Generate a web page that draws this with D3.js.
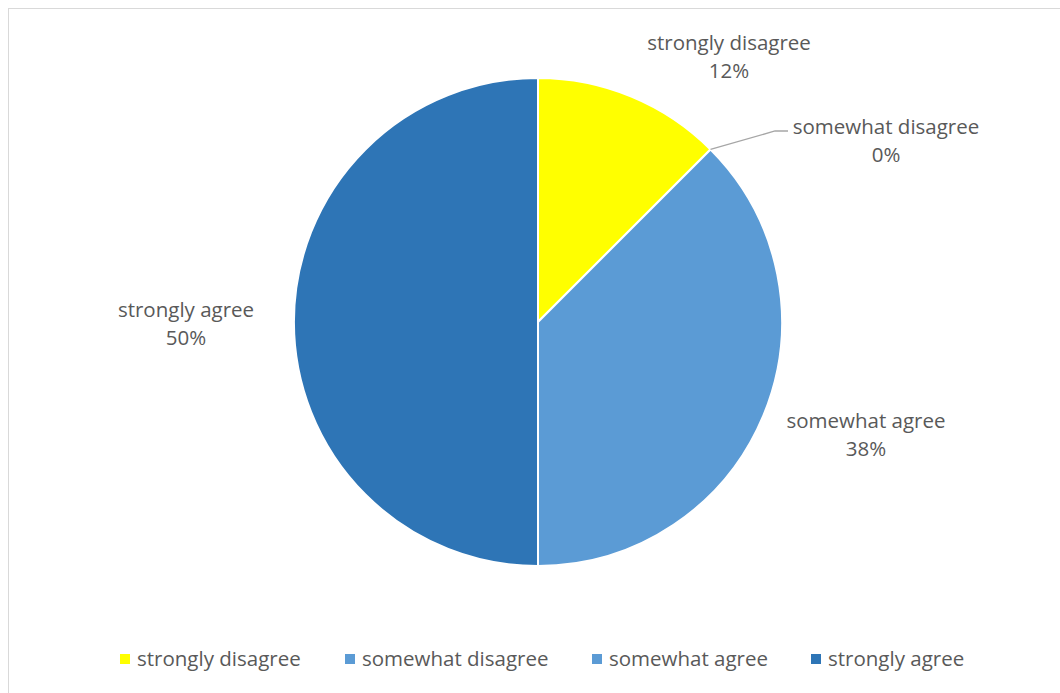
<!DOCTYPE html>
<html>
<head>
<meta charset="utf-8">
<script src="https://cdn.jsdelivr.net/npm/d3@7"></script>
<style>
  body { margin: 0; background: #fff; }
  text { font-family: "Open Sans", Lato, sans-serif; fill: #595959; }
</style>
</head>
<body>
<svg id="chart" width="1060" height="693"></svg>
<script>
// answers and their share of responses
var categories = ['strongly disagree', 'somewhat disagree', 'somewhat agree', 'strongly agree'];
var values = [12.5, 0, 37.5, 50];
var pctLabels = ['12%', '0%', '38%', '50%'];
var colors = ['#FFFF00', '#5B9BD5', '#5B9BD5', '#2E75B6'];

var svg = d3.select('#chart');
var cx = 538, cy = 322, radius = 244;
var fontSize = '20.5px';

// chart frame
svg.append('rect')
  .attr('x', 8.5).attr('y', 8.5)
  .attr('width', 1100).attr('height', 720)
  .attr('fill', 'none').attr('stroke', '#d9d9d9');

var pie = d3.pie().sort(null).value(function(d) { return d; });
var arcs = pie(values);
var arc = d3.arc().innerRadius(0).outerRadius(radius);

var g = svg.append('g').attr('transform', 'translate(' + cx + ',' + cy + ')');

g.selectAll('path.slice')
  .data(arcs)
  .enter().append('path')
  .attr('class', 'slice')
  .attr('d', arc)
  .attr('fill', function(d, i) { return colors[i]; })
  .attr('stroke', '#fff')
  .attr('stroke-width', 2);

// label placement (offsets from centre), like excel's best fit
var labelPos = [[191, -266], [348, -182], [328, 112], [-352, 1]];

// leader line for the empty slice
var zero = arcs[1];
var p0 = [Math.sin(zero.startAngle) * radius, -Math.cos(zero.startAngle) * radius];
g.append('polyline')
  .attr('points', [p0, [237, -191], [250, -191]].map(function(p) { return p.join(','); }).join(' '))
  .attr('fill', 'none')
  .attr('stroke', '#a6a6a6')
  .attr('stroke-width', 1.3);

var lab = g.selectAll('g.lab')
  .data(arcs)
  .enter().append('g')
  .attr('class', 'lab')
  .attr('transform', function(d, i) { return 'translate(' + labelPos[i][0] + ',' + labelPos[i][1] + ')'; });

lab.append('text')
  .attr('text-anchor', 'middle')
  .attr('y', -6)
  .style('font-size', fontSize)
  .text(function(d, i) { return categories[i]; });
lab.append('text')
  .attr('text-anchor', 'middle')
  .attr('y', 22)
  .style('font-size', fontSize)
  .text(function(d, i) { return pctLabels[i]; });

// legend
var legendX = [120, 345, 592, 811];
var leg = svg.selectAll('g.leg')
  .data(categories)
  .enter().append('g')
  .attr('class', 'leg')
  .attr('transform', function(d, i) { return 'translate(' + legendX[i] + ',659)'; });
leg.append('rect')
  .attr('x', 0).attr('y', -5)
  .attr('width', 10).attr('height', 10)
  .attr('fill', function(d, i) { return colors[i]; });
leg.append('text')
  .attr('x', 17).attr('y', 7)
  .style('font-size', fontSize)
  .text(function(d) { return d; });
</script>
</body>
</html>
